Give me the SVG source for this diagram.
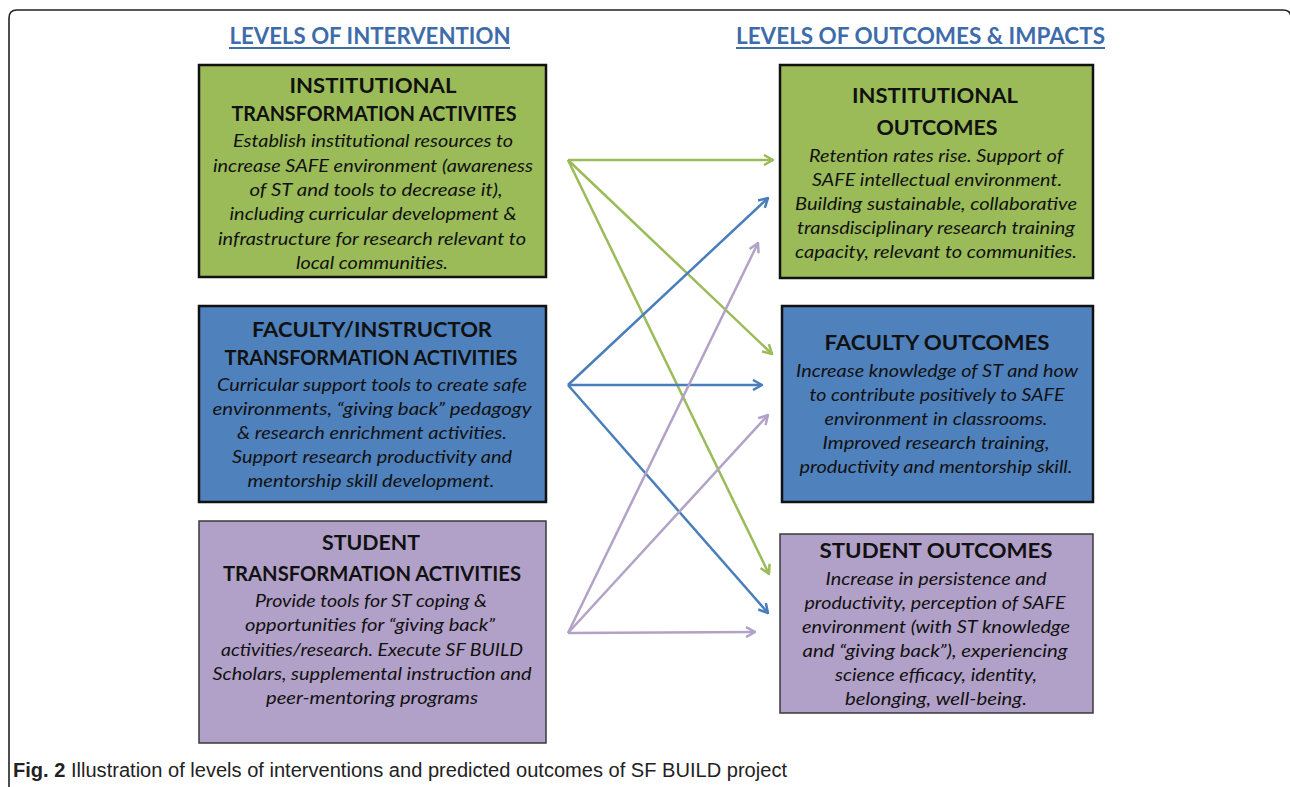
<svg xmlns="http://www.w3.org/2000/svg" width="1290" height="787" viewBox="0 0 1290 787">
<style>
.hd{font-family:Lato,"Liberation Sans",sans-serif;font-weight:bold;font-size:23.5px;fill:#3E6CAB;text-anchor:middle}
.tt{font-family:Lato,"Liberation Sans",sans-serif;font-weight:bold;font-size:20px;fill:#111;text-anchor:middle}
.bd{font-family:Lato,"Liberation Sans",sans-serif;font-style:italic;font-size:17.5px;fill:#111;text-anchor:middle}
.cap{font-family:"Liberation Sans",sans-serif;font-size:20px;fill:#222}
.g{fill:#9BBB59;stroke:#111;stroke-width:2.5}
.b{fill:#4F81BD;stroke:#111;stroke-width:2.5}
.p{fill:#B1A0C7;stroke:#3a3a3a;stroke-width:1.5}
.ag{stroke:#9BBB59;stroke-width:2.5;fill:none;marker-end:url(#mg)}
.ab{stroke:#4A7EBB;stroke-width:2.5;fill:none;marker-end:url(#mb)}
.ap{stroke:#B3A2C7;stroke-width:2.5;fill:none;marker-end:url(#mp)}
</style>
<defs>
<marker id="mg" viewBox="0 0 12 12" refX="11" refY="6" markerWidth="12" markerHeight="12" markerUnits="userSpaceOnUse" orient="auto"><path d="M2,1 L11,6 L2,11" fill="none" stroke="#9BBB59" stroke-width="2.5"/></marker>
<marker id="mb" viewBox="0 0 12 12" refX="11" refY="6" markerWidth="12" markerHeight="12" markerUnits="userSpaceOnUse" orient="auto"><path d="M2,1 L11,6 L2,11" fill="none" stroke="#4A7EBB" stroke-width="2.5"/></marker>
<marker id="mp" viewBox="0 0 12 12" refX="11" refY="6" markerWidth="12" markerHeight="12" markerUnits="userSpaceOnUse" orient="auto"><path d="M2,1 L11,6 L2,11" fill="none" stroke="#B3A2C7" stroke-width="2.5"/></marker>
</defs>
<rect width="1290" height="787" fill="#fff"/>
<path d="M9,790 V18 Q9,10 17,10 H1283 Q1291,10 1291,18" fill="none" stroke="#222" stroke-width="1.6"/>

<g id="heading-left">
<text class="hd" x="370" y="44" textLength="281" lengthAdjust="spacingAndGlyphs">LEVELS OF INTERVENTION</text>
<line x1="229" y1="48" x2="510" y2="48" stroke="#3E6CAB" stroke-width="2"/>
</g>
<g id="heading-right">
<text class="hd" x="920.5" y="44" textLength="369" lengthAdjust="spacingAndGlyphs">LEVELS OF OUTCOMES &amp; IMPACTS</text>
<line x1="736" y1="48" x2="1105" y2="48" stroke="#3E6CAB" stroke-width="2"/>
</g>

<g id="inst-activities">
<rect class="g" x="199" y="65" width="347" height="212"/>
<text class="tt" x="373" y="93" textLength="167" lengthAdjust="spacingAndGlyphs">INSTITUTIONAL</text>
<text class="tt" x="374" y="121" textLength="285" lengthAdjust="spacingAndGlyphs">TRANSFORMATION ACTIVITES</text>
<text class="bd" x="373" y="147" textLength="280" lengthAdjust="spacingAndGlyphs">Establish institutional resources to</text>
<text class="bd" x="373" y="172" textLength="320" lengthAdjust="spacingAndGlyphs">increase SAFE environment (awareness</text>
<text class="bd" x="376" y="196" textLength="253" lengthAdjust="spacingAndGlyphs">of ST and tools to decrease it),</text>
<text class="bd" x="373" y="220" textLength="287" lengthAdjust="spacingAndGlyphs">including curricular development &amp;</text>
<text class="bd" x="372" y="245" textLength="308" lengthAdjust="spacingAndGlyphs">infrastructure for research relevant to</text>
<text class="bd" x="372" y="269" textLength="152" lengthAdjust="spacingAndGlyphs">local communities.</text>
</g>

<g id="inst-outcomes">
<rect class="g" x="780" y="65" width="313" height="213"/>
<text class="tt" x="935" y="103" textLength="166" lengthAdjust="spacingAndGlyphs">INSTITUTIONAL</text>
<text class="tt" x="937" y="135" textLength="121" lengthAdjust="spacingAndGlyphs">OUTCOMES</text>
<text class="bd" x="936" y="162" textLength="254" lengthAdjust="spacingAndGlyphs">Retention rates rise. Support of</text>
<text class="bd" x="937" y="186" textLength="250" lengthAdjust="spacingAndGlyphs">SAFE intellectual environment.</text>
<text class="bd" x="936" y="210" textLength="282" lengthAdjust="spacingAndGlyphs">Building sustainable, collaborative</text>
<text class="bd" x="936" y="234" textLength="278" lengthAdjust="spacingAndGlyphs">transdisciplinary research training</text>
<text class="bd" x="936" y="258" textLength="282" lengthAdjust="spacingAndGlyphs">capacity, relevant to communities.</text>
</g>

<g id="faculty-activities">
<rect class="b" x="199" y="306" width="347" height="196"/>
<text class="tt" x="372" y="337" textLength="240" lengthAdjust="spacingAndGlyphs">FACULTY/INSTRUCTOR</text>
<text class="tt" x="371" y="365" textLength="293" lengthAdjust="spacingAndGlyphs">TRANSFORMATION ACTIVITIES</text>
<text class="bd" x="372" y="391" textLength="310" lengthAdjust="spacingAndGlyphs">Curricular support tools to create safe</text>
<text class="bd" x="372" y="415" textLength="319" lengthAdjust="spacingAndGlyphs">environments, “giving back” pedagogy</text>
<text class="bd" x="372" y="439" textLength="270" lengthAdjust="spacingAndGlyphs">&amp; research enrichment activities.</text>
<text class="bd" x="372" y="463" textLength="280" lengthAdjust="spacingAndGlyphs">Support research productivity and</text>
<text class="bd" x="371" y="487" textLength="247" lengthAdjust="spacingAndGlyphs">mentorship skill development.</text>
</g>

<g id="faculty-outcomes">
<rect class="b" x="782" y="306" width="311" height="196"/>
<text class="tt" x="937" y="350" textLength="225" lengthAdjust="spacingAndGlyphs">FACULTY OUTCOMES</text>
<text class="bd" x="937" y="377" textLength="282" lengthAdjust="spacingAndGlyphs">Increase knowledge of ST and how</text>
<text class="bd" x="937" y="401" textLength="255" lengthAdjust="spacingAndGlyphs">to contribute positively to SAFE</text>
<text class="bd" x="936" y="425" textLength="223" lengthAdjust="spacingAndGlyphs">environment in classrooms.</text>
<text class="bd" x="936" y="449" textLength="227" lengthAdjust="spacingAndGlyphs">Improved research training,</text>
<text class="bd" x="936" y="473" textLength="273" lengthAdjust="spacingAndGlyphs">productivity and mentorship skill.</text>
</g>

<g id="student-activities">
<rect class="p" x="199" y="521" width="347" height="222"/>
<text class="tt" x="371" y="550" textLength="98" lengthAdjust="spacingAndGlyphs">STUDENT</text>
<text class="tt" x="372" y="581" textLength="298" lengthAdjust="spacingAndGlyphs">TRANSFORMATION ACTIVITIES</text>
<text class="bd" x="371" y="607" textLength="232" lengthAdjust="spacingAndGlyphs">Provide tools for ST coping &amp;</text>
<text class="bd" x="370" y="631" textLength="250" lengthAdjust="spacingAndGlyphs">opportunities for “giving back”</text>
<text class="bd" x="372" y="656" textLength="302" lengthAdjust="spacingAndGlyphs">activities/research. Execute SF BUILD</text>
<text class="bd" x="372" y="680" textLength="319" lengthAdjust="spacingAndGlyphs">Scholars, supplemental instruction and</text>
<text class="bd" x="372" y="704" textLength="212" lengthAdjust="spacingAndGlyphs">peer-mentoring programs</text>
</g>

<g id="student-outcomes">
<rect class="p" x="780" y="534" width="313" height="179"/>
<text class="tt" x="936" y="558" textLength="233" lengthAdjust="spacingAndGlyphs">STUDENT OUTCOMES</text>
<text class="bd" x="936" y="585" textLength="221" lengthAdjust="spacingAndGlyphs">Increase in persistence and</text>
<text class="bd" x="935" y="609" textLength="261" lengthAdjust="spacingAndGlyphs">productivity, perception of SAFE</text>
<text class="bd" x="936" y="633" textLength="268" lengthAdjust="spacingAndGlyphs">environment (with ST knowledge</text>
<text class="bd" x="935" y="657" textLength="265" lengthAdjust="spacingAndGlyphs">and “giving back”), experiencing</text>
<text class="bd" x="936" y="681" textLength="202" lengthAdjust="spacingAndGlyphs">science efficacy, identity,</text>
<text class="bd" x="936" y="705" textLength="182" lengthAdjust="spacingAndGlyphs">belonging, well-being.</text>
</g>

<g id="connectors">
<line class="ag" x1="568" y1="160" x2="773" y2="160"/>
<line class="ag" x1="568" y1="160" x2="772" y2="354"/>
<line class="ag" x1="568" y1="160" x2="769" y2="574"/>
<line class="ab" x1="568" y1="385" x2="768" y2="198"/>
<line class="ab" x1="568" y1="385" x2="762" y2="385"/>
<line class="ab" x1="568" y1="385" x2="768" y2="613"/>
<line class="ap" x1="568" y1="633" x2="758" y2="243"/>
<line class="ap" x1="568" y1="633" x2="768" y2="415"/>
<line class="ap" x1="568" y1="633" x2="755" y2="632"/>
</g>

<g id="caption">
<text class="cap" x="13" y="777" textLength="774" lengthAdjust="spacingAndGlyphs"><tspan font-weight="bold">Fig. 2</tspan> Illustration of levels of interventions and predicted outcomes of SF BUILD project</text>
</g>
</svg>
